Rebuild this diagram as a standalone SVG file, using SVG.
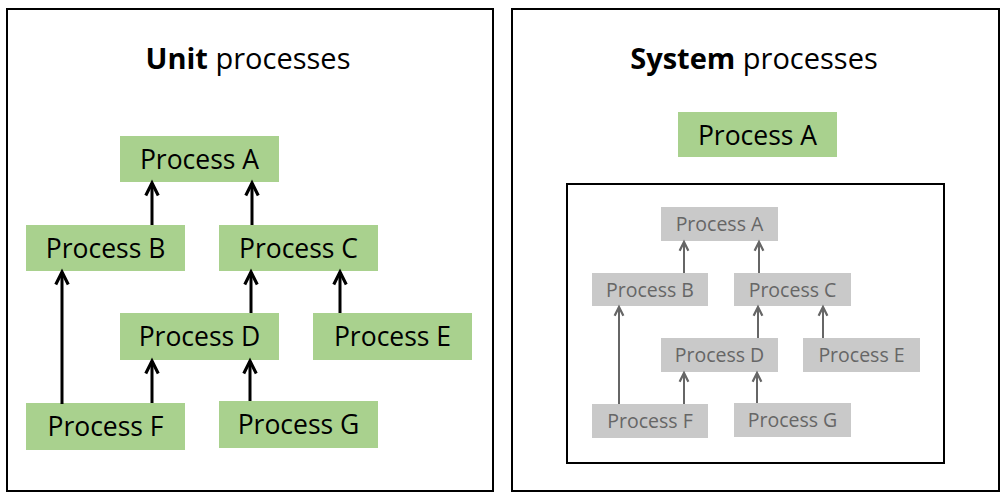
<svg xmlns="http://www.w3.org/2000/svg" width="1007" height="501" viewBox="0 0 1007 501">
<style>
.panel{fill:#fff;stroke:#000;stroke-width:2}
.g rect{fill:#a9d18e}
.g text{font-family:"Open Sans","Noto Sans",sans-serif;font-size:26.5px;fill:#000;text-anchor:middle}
.s rect{fill:#c9c9c9}
.s text{font-family:"Open Sans","Noto Sans",sans-serif;font-size:19.5px;fill:#666;text-anchor:middle}
.title{font-family:"Open Sans","Noto Sans",sans-serif;font-size:29px;fill:#000;text-anchor:middle}
.ca{stroke:#000;stroke-width:3;fill:none;marker-end:url(#ah)}
.cs{stroke:#666;stroke-width:2;fill:none;marker-end:url(#ahs)}
</style>
<defs>
<marker id="ah" markerUnits="userSpaceOnUse" orient="auto" markerWidth="20" markerHeight="20" refX="0" refY="0" viewBox="-12 -8 16 16" overflow="visible">
<path d="M-10,-5 L0,0 L-10,5" fill="none" stroke="#000" stroke-width="2.5"/>
</marker>
<marker id="ahs" markerUnits="userSpaceOnUse" orient="auto" markerWidth="20" markerHeight="20" refX="0" refY="0" viewBox="-12 -8 16 16" overflow="visible">
<path d="M-7,-3.5 L0,0 L-7,3.5" fill="none" stroke="#666" stroke-width="1.8"/>
</marker>
</defs>
<rect width="1007" height="501" fill="#fff"/>
<g id="panel-unit">
<rect class="panel" x="7" y="9" width="486" height="482"/>
<text class="title" x="248" y="69"><tspan font-weight="bold">Unit</tspan> processes</text>
</g>
<g id="panel-system">
<rect class="panel" x="512" y="9" width="487" height="482"/>
<text class="title" x="754" y="69"><tspan font-weight="bold">System</tspan> processes</text>
<rect class="panel" x="567" y="184" width="377" height="279"/>
</g>
<g id="u-a" class="g"><rect x="120" y="136" width="159" height="46"/><text x="199.5" y="168.5">Process A</text></g>
<g id="u-b" class="g"><rect x="26" y="225" width="159" height="46"/><text x="105.5" y="257.5">Process B</text></g>
<g id="u-c" class="g"><rect x="219" y="225" width="159" height="46"/><text x="298.5" y="257.5">Process C</text></g>
<g id="u-d" class="g"><rect x="120" y="313" width="159" height="47"/><text x="199.5" y="346">Process D</text></g>
<g id="u-e" class="g"><rect x="313" y="313" width="159" height="47"/><text x="392.5" y="346">Process E</text></g>
<g id="u-f" class="g"><rect x="26" y="403" width="159" height="47"/><text x="105.5" y="436">Process F</text></g>
<g id="u-g" class="g"><rect x="219" y="401" width="159" height="47"/><text x="298.5" y="434">Process G</text></g>
<g id="s-top" class="g"><rect x="678" y="112" width="159" height="45"/><text x="757.5" y="145">Process A</text></g>
<g id="s-a" class="s"><rect x="661" y="207" width="117" height="34"/><text x="719.5" y="231">Process A</text></g>
<g id="s-b" class="s"><rect x="592" y="273" width="116" height="33"/><text x="650" y="296.5">Process B</text></g>
<g id="s-c" class="s"><rect x="734" y="273" width="117" height="33"/><text x="792.5" y="296.5">Process C</text></g>
<g id="s-d" class="s"><rect x="661" y="338" width="117" height="34"/><text x="719.5" y="362">Process D</text></g>
<g id="s-e" class="s"><rect x="803" y="338" width="117" height="34"/><text x="861.5" y="362">Process E</text></g>
<g id="s-f" class="s"><rect x="592" y="404" width="116" height="34"/><text x="650" y="428">Process F</text></g>
<g id="s-g" class="s"><rect x="734" y="403" width="117" height="34"/><text x="792.5" y="427">Process G</text></g>
<g id="connectors">
<path class="ca" d="M152,225 V183"/>
<path class="ca" d="M252,225 V183"/>
<path class="ca" d="M62,404 V272"/>
<path class="ca" d="M152,403 V361"/>
<path class="ca" d="M251,313 V272"/>
<path class="ca" d="M340,313 V272"/>
<path class="ca" d="M250,401 V361"/>
<path class="cs" d="M684,273 V242"/>
<path class="cs" d="M759,273 V242"/>
<path class="cs" d="M619,404 V307"/>
<path class="cs" d="M684,404 V373"/>
<path class="cs" d="M758,338 V307"/>
<path class="cs" d="M823,338 V307"/>
<path class="cs" d="M757,403 V373"/>
</g>
</svg>
